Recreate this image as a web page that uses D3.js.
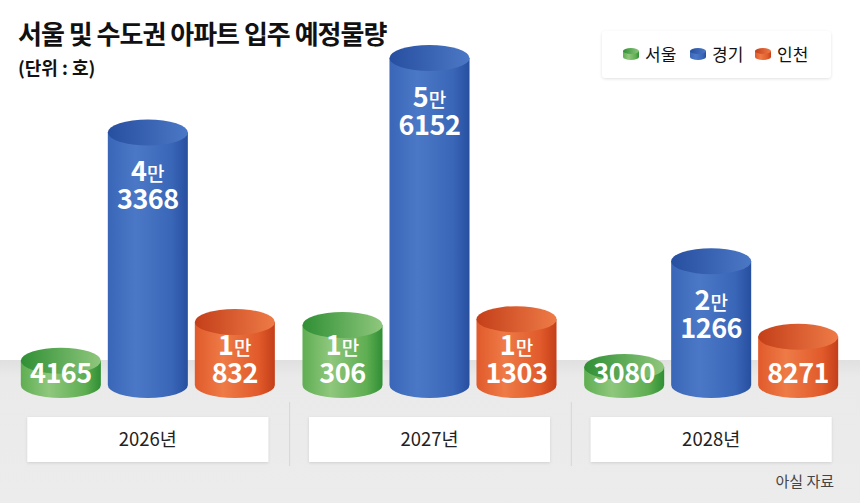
<!DOCTYPE html>
<html>
<head>
<meta charset="utf-8">
<script src="https://cdn.jsdelivr.net/npm/d3@7"></script>
<style>
  body { margin: 0; background: #fff; }
  text { font-family: "Noto Sans CJK KR", "Noto Sans", sans-serif; }
</style>
</head>
<body>
<script>
// data
var years = ["2026년", "2027년", "2028년"];
var series = ["서울", "경기", "인천"];
var seoul = [4165, 10306, 3080];
var gyeonggi = [43368, 56152, 21266];
var incheon = [10832, 11303, 8271];

var width = 860, height = 503;
var floorY = 360, baseY = 398, ry = 13;

// colours per series: [dark, mid, light]
var palette = {
    "서울": ["#2f8f34", "#5fae52", "#8fc77d"],
    "경기": ["#274f9f", "#3a66b8", "#4b78c6"],
    "인천": ["#c43f19", "#e15a2b", "#ee7b47"]
};

var svg = d3.select("body")
    .append("svg")
    .attr("width", width)
    .attr("height", height);

var defs = svg.append("defs");

// gradients for every series
series.forEach(function(s, i){
    var c = palette[s];
    var body = defs.append("linearGradient")
        .attr("id", "body" + i)
        .attr("x1", 0).attr("x2", 1).attr("y1", 0).attr("y2", 0);
    body.append("stop").attr("offset", "0%").attr("stop-color", c[1]);
    body.append("stop").attr("offset", "35%").attr("stop-color", c[2]);
    body.append("stop").attr("offset", "80%").attr("stop-color", c[1]);
    body.append("stop").attr("offset", "100%").attr("stop-color", c[0]);
    var top = defs.append("linearGradient")
        .attr("id", "top" + i)
        .attr("x1", 0).attr("x2", 1).attr("y1", 0).attr("y2", 0);
    top.append("stop").attr("offset", "0%").attr("stop-color", c[0]);
    top.append("stop").attr("offset", "100%").attr("stop-color", c[2]);
});

var floorGrad = defs.append("linearGradient")
    .attr("id", "floorGrad")
    .attr("x1", 0).attr("x2", 0).attr("y1", 0).attr("y2", 1);
floorGrad.append("stop").attr("offset", "0%").attr("stop-color", "#e0e0e0");
floorGrad.append("stop").attr("offset", "12%").attr("stop-color", "#eaeaea");
floorGrad.append("stop").attr("offset", "100%").attr("stop-color", "#ececec");

var shadow = defs.append("filter").attr("id", "shadow")
    .attr("x", "-10%").attr("y", "-20%").attr("width", "120%").attr("height", "150%");
shadow.append("feDropShadow")
    .attr("dx", 0).attr("dy", 1).attr("stdDeviation", 1.5)
    .attr("flood-color", "#000").attr("flood-opacity", 0.12);

// floor
svg.append("rect")
    .attr("x", 0).attr("y", floorY)
    .attr("width", width).attr("height", height - floorY)
    .attr("fill", "url(#floorGrad)");

// scales
var x0 = d3.scaleBand()
    .domain(years)
    .range([7, 852]);

var x1 = d3.scaleBand()
    .domain(series)
    .range([-130.5, 130.5])
    .paddingInner(0.08)
    .paddingOuter(0.04);

var y = d3.scaleLinear()
    .domain([0, 56152])
    .range([0, 327]);

// separators between years
svg.selectAll(".sep")
    .data(years.slice(1))
    .enter()
    .append("line")
    .attr("class", "sep")
    .attr("x1", function(d){ return x0(d) + 1; })
    .attr("x2", function(d){ return x0(d) + 1; })
    .attr("y1", 402).attr("y2", 466)
    .attr("stroke", "#d6d6d6")
    .attr("stroke-width", 1);

// year boxes
var boxes = svg.selectAll(".yearBox")
    .data(years)
    .enter()
    .append("g")
    .attr("class", "yearBox")
    .attr("transform", function(d){
        return "translate(" + (x0(d) + x0.bandwidth() / 2) + ",0)";
    });
boxes.append("rect")
    .attr("x", -120.5).attr("y", 417)
    .attr("width", 241).attr("height", 45)
    .attr("fill", "#fff")
    .attr("filter", "url(#shadow)");
boxes.append("text")
    .attr("x", 0).attr("y", 446)
    .attr("text-anchor", "middle")
    .attr("font-size", 18.5)
    .attr("fill", "#222")
    .text(function(d){ return d; });

// build rows for cylinders
var rows = [];
years.forEach(function(yr, i){
    [seoul, gyeonggi, incheon].forEach(function(arr, j){
        rows.push({year: yr, s: series[j], si: j, value: arr[i]});
    });
});

var cyl = svg.selectAll(".cyl")
    .data(rows)
    .enter()
    .append("g")
    .attr("class", "cyl")
    .attr("transform", function(d){
        return "translate(" + (x0(d.year) + x0.bandwidth() / 2 + x1(d.s)) + ",0)";
    });

var bw = x1.bandwidth(), rx = bw / 2;

cyl.append("path")
    .attr("d", function(d){
        var yb = baseY - ry;
        var yt = yb - y(d.value);
        return "M0," + yt + "L0," + yb +
            "A" + rx + "," + ry + " 0 0 0 " + bw + "," + yb +
            "L" + bw + "," + yt + "Z";
    })
    .attr("fill", function(d){ return "url(#body" + d.si + ")"; });

cyl.append("ellipse")
    .attr("cx", rx)
    .attr("cy", function(d){ return baseY - ry - y(d.value); })
    .attr("rx", rx).attr("ry", ry)
    .attr("fill", function(d){ return "url(#top" + d.si + ")"; });

// value labels: "N만" on one line, remainder below, in one text element
cyl.each(function(d){
    var g = d3.select(this);
    var topY = baseY - 2 * ry - y(d.value);
    var line2 = Math.min(topY + 90, baseY - 15);
    var man = Math.floor(d.value / 10000), rest = d.value % 10000;
    var t = g.append("text")
        .attr("text-anchor", "middle")
        .attr("fill", "#fff")
        .attr("font-weight", 700)
        .attr("font-size", 27);
    if (man > 0){
        t.append("tspan").attr("x", rx).attr("y", line2 - 28).text(man);
        t.append("tspan").attr("font-size", 19).attr("font-weight", 500).text("만");
    }
    t.append("tspan")
        .attr("x", rx).attr("y", line2)
        .attr("letter-spacing", -0.5)
        .text(rest);
});

// title
svg.append("text")
    .attr("x", 18).attr("y", 44)
    .attr("font-size", 26)
    .attr("font-weight", 700)
    .attr("letter-spacing", -1)
    .attr("fill", "#111")
    .text("서울 및 수도권 아파트 입주 예정물량");
svg.append("text")
    .attr("x", 18).attr("y", 75)
    .attr("font-size", 18)
    .attr("font-weight", 700)
    .attr("fill", "#111")
    .text("(단위 : 호)");

// legend
var legend = svg.append("g").attr("transform", "translate(602,31)");
legend.append("rect")
    .attr("width", 229).attr("height", 47)
    .attr("rx", 4)
    .attr("fill", "#fff")
    .attr("filter", "url(#shadow)");
var legendX = [21, 88, 153];
var items = legend.selectAll(".item")
    .data(series)
    .enter()
    .append("g")
    .attr("class", "item")
    .attr("transform", function(d, i){ return "translate(" + legendX[i] + ",0)"; });
items.append("path")
    .attr("d", "M0,20L0,26A8,3 0 0 0 16,26L16,20Z")
    .attr("fill", function(d, i){ return "url(#body" + i + ")"; });
items.append("ellipse")
    .attr("cx", 8).attr("cy", 20).attr("rx", 8).attr("ry", 3)
    .attr("fill", function(d, i){ return "url(#top" + i + ")"; });
items.append("text")
    .attr("x", 22).attr("y", 30)
    .attr("font-size", 17)
    .attr("fill", "#111")
    .text(function(d){ return d; });

// source
svg.append("text")
    .attr("x", 834).attr("y", 487)
    .attr("text-anchor", "end")
    .attr("font-size", 15)
    .attr("fill", "#444")
    .text("아실 자료");
</script>
</body>
</html>
